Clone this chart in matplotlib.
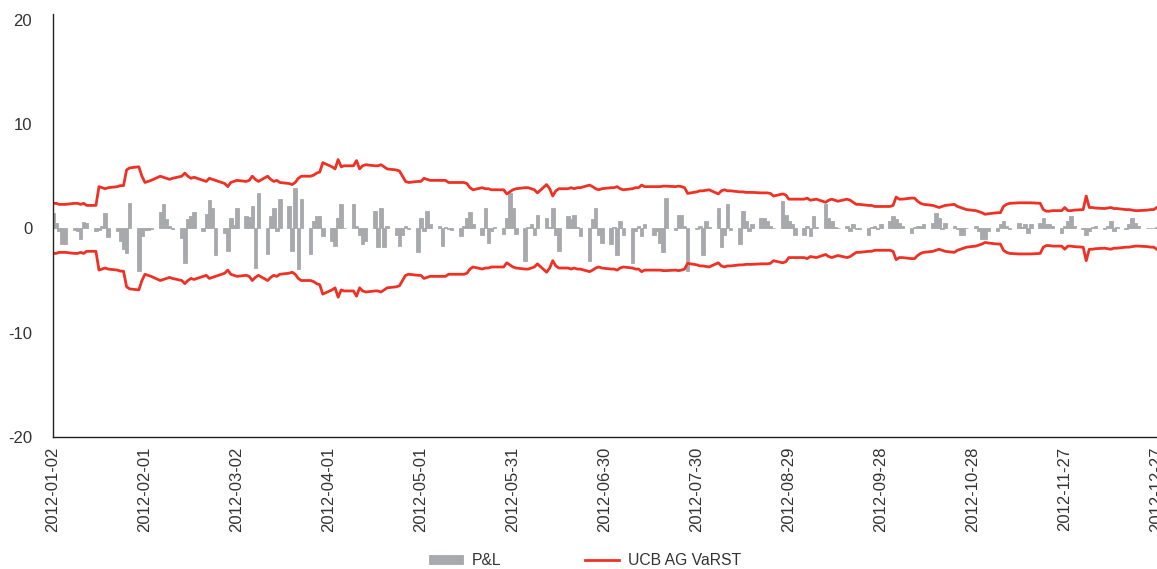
import numpy as np
import pandas as pd
import matplotlib
matplotlib.use("Agg")
import matplotlib.pyplot as plt

plt.rcParams['font.family'] = ['Liberation Sans Narrow', 'Liberation Sans', 'DejaVu Sans']
plt.rcParams['axes.unicode_minus'] = False

# business days of 2012
dates = pd.bdate_range("2012-01-02", "2012-12-31")

# daily P&L, one row per week (Mon..Fri)
pnl = [
    1.5, 0.5, -0.3, -1.5, -1.5,
    -0.2, -0.3, -1.0, 0.6, 0.5,
    -0.3, -0.2, 0.2, 1.5, -0.8,
    -0.3, -1.2, -2.0, -2.4, 2.4,
    -4.1, -0.7, -0.2, -0.2, -0.1,
    1.6, 2.3, 0.9, 0.2, -0.1,
    -0.9, -3.3, 0.9, 1.2, 1.6,
    -0.3, 1.4, 2.7, 2.0, -2.6,
    -0.4, -2.2, 1.0, 0.3, 2.0,
    1.2, 1.1, 2.1, -3.8, 3.4,
    -2.5, 1.2, 2.0, -0.3, 2.8,
    2.1, -2.2, 3.9, -3.9, 2.8,
    -2.5, 0.7, 1.2, 1.2, -0.7,
    -1.2, -1.7, 1.0, 2.3, 0.0,
    2.3, 0.2, -0.6, -1.5, -1.2,
    1.7, -1.8, 2.0, -1.8, 0.2,
    -0.6, -1.7, -0.6, 0.2, -0.1,
    -2.3, 1.0, -0.3, 1.7, 0.4,
    0.2, -1.7, 0.1, -0.1, -0.2,
    -0.7, 0.2, 1.0, 1.6, 0.4,
    -0.6, 2.0, -1.4, -0.3, 0.1,
    -0.5, 1.0, 3.4, 2.0, -0.5,
    -3.1, 0.1, 0.4, -0.6, 1.3,
    1.0, 0.1, 2.0, -0.6, -2.2,
    1.2, 0.9, 1.3, 0.1, -0.7,
    -3.1, 0.9, 2.0, -0.6, -1.4,
    -1.5, 0.1, -2.6, 0.7, -0.6,
    -3.3, -0.3, 0.2, -0.7, 0.4,
    -0.6, -0.3, -1.4, -2.3, 2.9,
    -0.2, 1.3, 1.3, 0.2, -4.1,
    -0.1, 0.2, -2.6, 0.7, 0.1,
    2.0, -1.8, -0.6, 2.3, -0.2,
    -1.5, 1.7, 0.7, -0.3, 0.4,
    1.0, 1.0, 0.7, 0.2, 0.0,
    2.6, 1.3, 0.7, 0.4, -0.6,
    -0.6, 0.2, -0.7, 1.2, 0.1,
    2.3, 1.0, 0.7, 0.1, 0.0,
    0.2, -0.3, 0.4, -0.1, -0.1,
    -0.6, 0.1, 0.2, -0.1, 0.4,
    0.7, 1.2, 0.9, 0.5, 0.2,
    -0.4, 0.1, 0.2, 0.2, 0.4,
    0.5, 1.5, 1.0, -0.1, 0.5,
    0.2, -0.1, -0.6, -0.6, 0.0,
    0.2, -0.3, -1.0, -1.0, -0.3,
    -0.3, 0.4, 0.7, 0.2, -0.1,
    0.5, 0.1, 0.4, -0.4, 0.4,
    0.5, 1.0, 0.4, 0.4, 0.2,
    -0.4, 0.2, 0.7, 1.2, 0.2,
    -0.1, -0.6, -0.3, 0.1, 0.2,
    -0.1, 0.2, 0.7, -0.3, 0.1,
    -0.1, 0.4, 1.0, 0.5, 0.2,
    0.0, 0.0, 0.0, 0.1, -0.3,
    0.0,
]

# short term VaR (band drawn at +VaR / -VaR)
var = [
    2.4, 2.4, 2.3, 2.3, 2.3,
    2.4, 2.4, 2.3, 2.4, 2.2,
    2.2, 4.0, 3.9, 3.8, 3.9,
    4.0, 4.1, 4.1, 5.6, 5.8,
    5.9, 5.0, 4.4, 4.5, 4.6,
    5.0, 4.9, 4.8, 4.7, 4.8,
    5.0, 5.3, 5.0, 4.8, 4.9,
    4.6, 4.5, 4.8, 4.7, 4.6,
    4.3, 4.0, 4.4, 4.5, 4.6,
    4.5, 4.6, 5.0, 4.7, 4.5,
    5.0, 4.7, 4.5, 4.6, 4.4,
    4.3, 4.2, 4.4, 4.8, 5.0,
    5.0, 5.1, 5.3, 5.4, 6.3,
    5.9, 5.7, 6.6, 5.9, 6.0,
    6.0, 6.5, 5.7, 6.0, 6.1,
    6.0, 6.0, 6.1, 5.9, 5.7,
    5.6, 5.5, 5.0, 4.5, 4.4,
    4.5, 4.5, 4.8, 4.7, 4.6,
    4.6, 4.6, 4.6, 4.4, 4.4,
    4.4, 4.4, 4.3, 3.9, 3.7,
    3.9, 3.8, 3.8, 3.7, 3.7,
    3.7, 3.3, 3.5, 3.7, 3.8,
    3.9, 3.9, 3.8, 3.7, 3.4,
    4.2, 3.8, 3.1, 3.6, 3.8,
    3.8, 3.9, 3.8, 3.9, 3.9,
    4.15, 4.0, 3.8, 3.7, 3.8,
    3.9, 3.9, 4.0, 3.8, 3.7,
    3.8, 3.9, 3.9, 4.15, 4.0,
    4.0, 4.0, 4.0, 4.05, 4.05,
    4.0, 4.05, 4.0, 3.9, 3.35,
    3.5, 3.6, 3.6, 3.65, 3.7,
    3.3, 3.6, 3.7, 3.6, 3.6,
    3.5, 3.5, 3.45, 3.45, 3.45,
    3.4, 3.4, 3.4, 3.35, 3.1,
    3.3, 3.2, 2.8, 2.8, 2.8,
    2.8, 2.9, 2.7, 2.75, 2.8,
    2.5, 2.7, 2.8, 2.7, 2.6,
    2.8, 2.7, 2.5, 2.3, 2.3,
    2.2, 2.2, 2.1, 2.1, 2.1,
    2.1, 2.2, 3.0, 2.8, 2.8,
    2.9, 2.9, 2.6, 2.4, 2.3,
    2.2, 2.1, 2.0, 2.1, 2.2,
    2.3, 2.1, 2.0, 1.9, 1.8,
    1.7, 1.6, 1.5, 1.35, 1.4,
    1.5, 1.5, 2.1, 2.3, 2.4,
    2.45, 2.45, 2.45, 2.45, 2.45,
    2.4, 1.8, 1.65, 1.65, 1.7,
    1.7, 2.0, 1.7, 1.7, 1.75,
    1.8, 3.1, 2.0, 2.0, 1.95,
    1.9, 1.95, 2.0, 1.9, 1.9,
    1.8, 1.8, 1.75, 1.7, 1.7,
    1.75, 1.8, 1.8, 2.0, 2.15,
    2.2,
]

tick_dates = pd.date_range("2012-01-02", periods=13, freq="30D")

pnl = np.array(pnl)
var = np.array(var)

fig = plt.figure(figsize=(11.57, 5.69), dpi=100)
ax = fig.add_axes([53/1157, 132/569, 1116/1157, 423/569])

bars = ax.bar(dates, pnl, width=1.15, color="#a7a9ac", edgecolor="#a7a9ac",
              linewidth=0.6, label="P&L")
line, = ax.plot(dates, var, color="#ee3124", lw=2.0, label="UCB AG VaRST")
ax.plot(dates, -var, color="#ee3124", lw=2.0)

ax.set_ylim(-20, 20.55)
ax.set_yticks([-20, -10, 0, 10, 20])
ax.set_xlim(pd.Timestamp("2012-01-02"), pd.Timestamp("2012-12-31"))
ax.set_xticks(tick_dates)
ax.set_xticklabels([d.strftime("%Y-%m-%d") for d in tick_dates], rotation=90)

ax.tick_params(axis="both", length=0, labelsize=12, colors="#333333")
ax.tick_params(axis="y", pad=15)
ax.tick_params(axis="x", pad=7)
for s in ["top", "right"]:
    ax.spines[s].set_visible(False)
for s in ["left", "bottom"]:
    ax.spines[s].set_color("#222222")
    ax.spines[s].set_linewidth(1.0)

fig.legend([bars, line], ["P&L", "UCB AG VaRST"], loc="center",
           bbox_to_anchor=(0.5056, 0.015), ncol=2, frameon=False,
           fontsize=11.3, handlelength=2.17, handleheight=0.5, handletextpad=0.57,
           columnspacing=5.35, borderpad=0, labelcolor="#333333")

fig.savefig("out.png", dpi=100)
